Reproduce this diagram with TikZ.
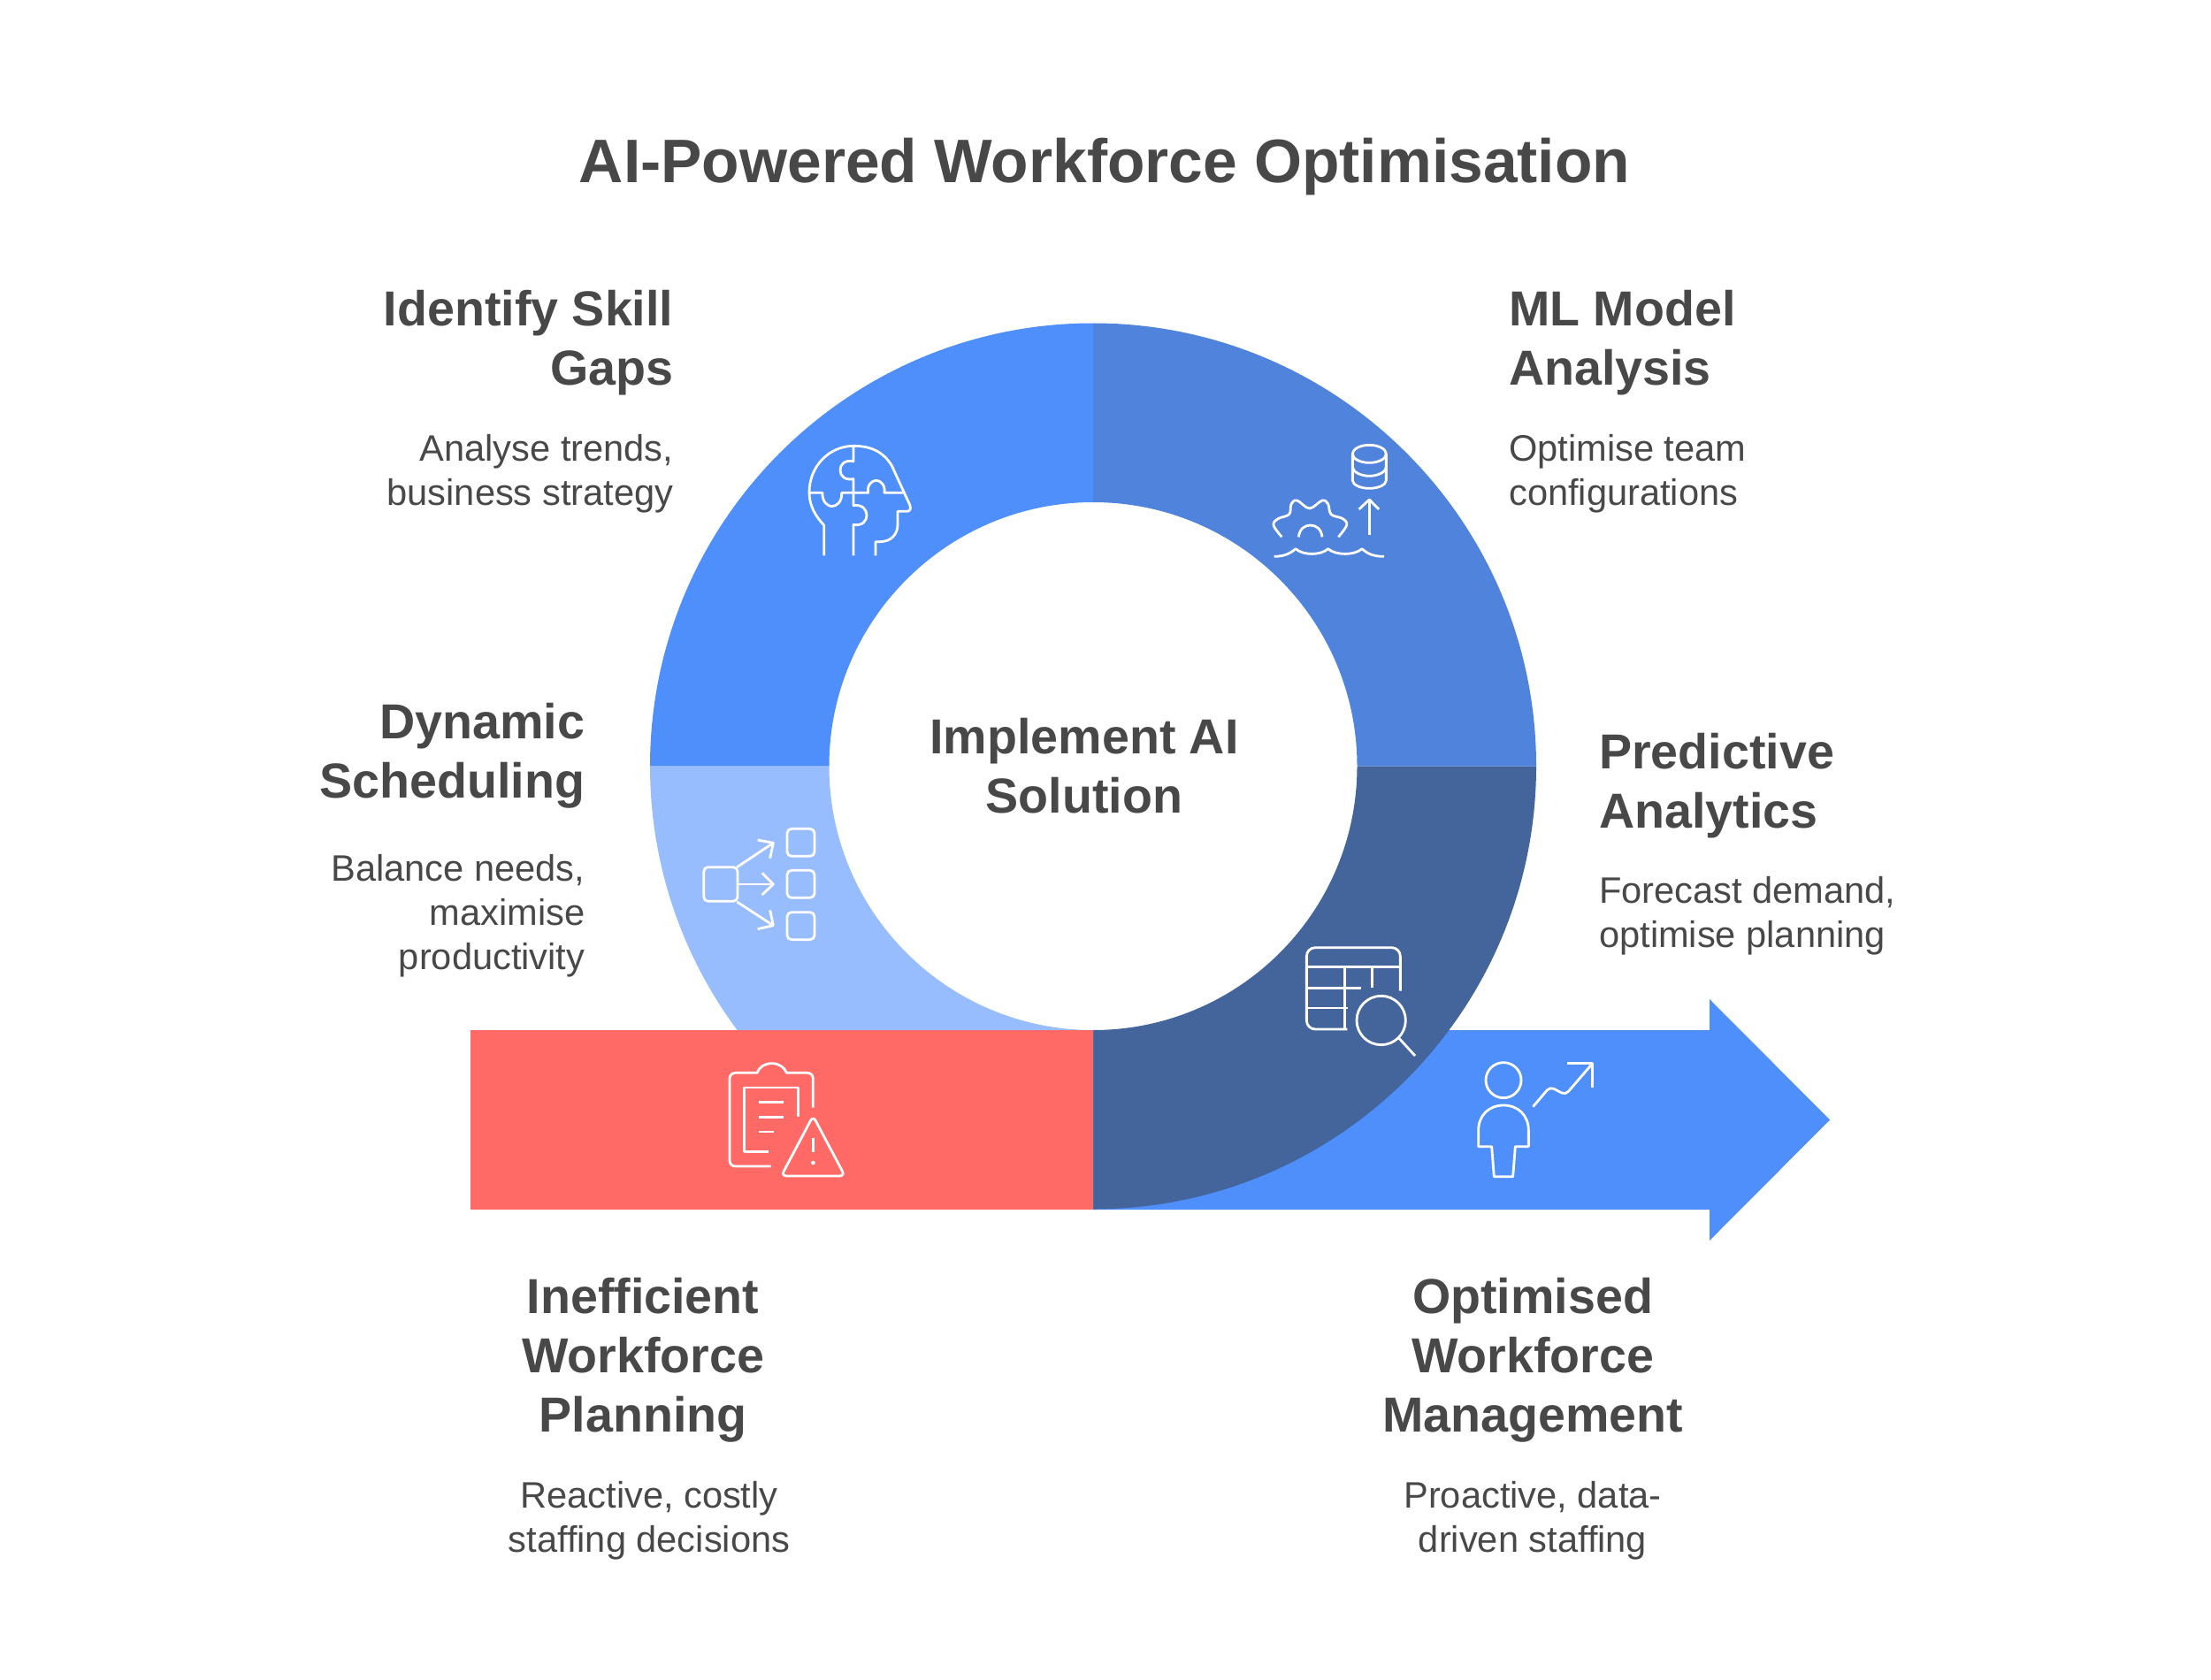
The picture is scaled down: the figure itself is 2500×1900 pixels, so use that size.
\documentclass[tikz,border=0pt]{standalone}
\usepackage{fontspec}
\setmainfont{Liberation Sans}
\definecolor{blueA}{HTML}{4E8FFC}
\definecolor{blueB}{HTML}{5083DB}
\definecolor{blueC}{HTML}{44659B}
\definecolor{blueD}{HTML}{97BDFF}
\definecolor{redA}{HTML}{FF6966}
\definecolor{ink}{HTML}{484848}
\tikzset{
 ttl/.style={inner sep=0pt,text=ink,font=\fontsize{69.5}{84}\selectfont\bfseries},
 hd/.style={inner sep=0pt,text=ink,font=\fontsize{55.6}{67}\selectfont\bfseries},
 bd/.style={inner sep=0pt,text=ink,font=\fontsize{41.6}{50}\selectfont},
 ico/.style={draw=white,line width=2.8pt,line cap=butt,line join=round},
}
\begin{document}
\begin{tikzpicture}[x=1pt,y=-1pt]
\useasboundingbox (0,0) rectangle (2500,1900);
\fill[white] (0,0) rectangle (2500,1900);
% arrow
\fill[blueA] (1236,1165) -- (1933,1165) -- (1933,1130) -- (2069,1266.5) -- (1933,1403) -- (1933,1368) -- (1236,1368) -- cycle;
% ring
\def\cx{1236}\def\cy{866.5}\def\Ro{501}\def\Ri{298.5}
\fill[blueA] (\cx-\Ro,\cy) arc[start angle=180,end angle=270,radius=\Ro] -- (\cx,\cy-\Ri) arc[start angle=270,end angle=180,radius=\Ri] -- cycle;
\fill[blueB] (\cx,\cy-\Ro) arc[start angle=270,end angle=360,radius=\Ro] -- (\cx+\Ri,\cy) arc[start angle=360,end angle=270,radius=\Ri] -- cycle;
\fill[blueC] (\cx+\Ro,\cy) arc[start angle=0,end angle=90,radius=\Ro] -- (\cx,\cy+\Ri) arc[start angle=90,end angle=0,radius=\Ri] -- cycle;
\fill[blueD] (\cx,\cy+\Ro) arc[start angle=90,end angle=180,radius=\Ro] -- (\cx-\Ri,\cy) arc[start angle=180,end angle=90,radius=\Ri] -- cycle;
\fill[redA] (532,1165) rectangle (1236,1368);
% head icon
\begin{scope}[shift={(880,470)},scale=1/3]
\draw[ico] (155,475) -- (155,372) .. controls (125,340) and (105,305) .. (105,260) .. controls (105,170) and (175,103) .. (255,103) .. controls (310,103) and (355,120) .. (385,170) -- (447,305) .. controls (450,318) and (447,325) .. (435,325) -- (405,325) -- (405,370) .. controls (405,405) and (380,428) .. (345,428) -- (330,428) -- (330,475);
\draw[ico] (255,103) -- (255,155) .. controls (225,150) and (210,165) .. (210,185) .. controls (210,205) and (225,220) .. (255,215) -- (255,305) .. controls (285,300) and (300,320) .. (300,338) .. controls (300,358) and (285,375) .. (255,370) -- (255,475);
\draw[ico] (105,262) -- (150,262) .. controls (148,295) and (170,308) .. (182,308) .. controls (195,308) and (217,295) .. (215,262) -- (305,262) .. controls (300,235) and (318,220) .. (332,220) .. controls (346,220) and (364,235) .. (360,262) -- (430,262);
\end{scope}
% gear and database icon
\begin{scope}[shift={(1410,480)},scale=1/3]
\draw[ico] (415,100) ellipse [x radius=57,y radius=30];
\draw[ico] (358,100) -- (358,190) .. controls (358,205) and (385,217) .. (415,217) .. controls (445,217) and (472,205) .. (472,190) -- (472,100);
\draw[ico] (358,145) .. controls (358,160) and (385,175) .. (415,175) .. controls (445,175) and (472,160) .. (472,145);
\draw[ico] (415,375) -- (415,255);
\draw[ico] (380,288) -- (415,255) -- (447,288);
\draw[ico] plot[smooth,tension=0.6] coordinates {(118,382) (90,342) (105,320) (143,305) (150,270) (170,258) (212,285) (255,258) (275,270) (285,305) (325,320) (338,342) (310,382)};
\draw[ico] (175,382) .. controls (178,355) and (195,342) .. (215,342) .. controls (235,342) and (252,355) .. (255,382);
\draw[ico] (92,448) .. controls (130,448) and (150,435) .. (165,422) .. controls (190,445) and (250,445) .. (275,422) .. controls (300,445) and (365,445) .. (390,422) .. controls (410,440) and (430,448) .. (465,448);
\end{scope}
% scheduling icon
\begin{scope}[shift={(770,910)},scale=1/3]
\draw[ico,rounded corners=5pt] (77,212) rectangle (192,328);
\draw[ico,rounded corners=5pt] (360,82) rectangle (453,175);
\draw[ico,rounded corners=5pt] (360,223) rectangle (453,316);
\draw[ico,rounded corners=5pt] (360,365) rectangle (453,458);
\draw[ico] (190,212) -- (313,130);
\draw[ico] (260,120) -- (313,130) -- (302,182);
\draw[ico] (195,270) -- (313,270);
\draw[ico] (275,232) -- (313,270) -- (275,306);
\draw[ico] (190,330) -- (313,410);
\draw[ico] (302,358) -- (313,410) -- (260,422);
\end{scope}
% clipboard icon
\begin{scope}[shift={(800,1180)},scale=1/3]
\draw[ico] (215,417) -- (95,417) .. controls (83,417) and (75,409) .. (75,397) -- (75,120) .. controls (75,108) and (83,100) .. (95,100) -- (168,100) .. controls (175,80) and (195,68) .. (218,68) .. controls (241,68) and (261,80) .. (268,100) -- (338,100) .. controls (350,100) and (358,108) .. (358,120) -- (358,218);
\draw[ico] (208,367) -- (125,367) -- (125,150) -- (308,150) -- (308,250);
\draw[ico] (175,200) -- (258,200);
\draw[ico] (175,250) -- (258,250);
\draw[ico] (175,300) -- (225,300);
\draw[ico,rounded corners=6pt] (358,246) -- (466,450) -- (250,450) -- cycle;
\draw[ico] (358,320) -- (358,370);
\fill[white] (358,405) circle[radius=7];
\end{scope}
% table icon
\begin{scope}[shift={(1450,1050)},scale=1/3]
\draw[ico] (400,212) -- (400,95) .. controls (400,78) and (387,65) .. (370,65) -- (112,65) .. controls (95,65) and (82,78) .. (82,95) -- (82,312) .. controls (82,329) and (95,342) .. (112,342) -- (220,342);
\draw[ico] (82,130) -- (400,130);
\draw[ico] (212,130) -- (212,342);
\draw[ico] (305,130) -- (305,200);
\draw[ico] (82,202) -- (268,202);
\draw[ico] (82,270) -- (222,270);
\draw[ico] (335,312) circle[radius=83];
\draw[ico] (395,372) -- (450,432);
\end{scope}
% person icon
\begin{scope}[shift={(1640,1180)},scale=1/3]
\draw[ico] (180,125) circle[radius=60];
\draw[ico] (95,350) -- (95,295) .. controls (95,245) and (130,210) .. (180,210) .. controls (230,210) and (265,245) .. (265,295) -- (265,350) -- (220,350) -- (212,452) -- (148,452) -- (140,350) -- cycle;
\draw[ico,rounded corners=5pt] (280,215) -- (338,147) -- (390,175) -- (482,68);
\draw[ico] (397,68) -- (482,68) -- (482,150);
\end{scope}
% texts
\node[ttl,anchor=base] (title) at (1249,206) {AI-Powered Workforce Optimisation};
\node[hd,anchor=north east,align=right] (skillh) at (761.5,321.5) {\strut Identify Skill\\Gaps};
\node[bd,anchor=north east,align=right] (skillb) at (761.5,486) {\strut Analyse trends,\\business strategy};
\node[hd,anchor=north west,align=left] (mlh) at (1706,321.5) {\strut ML Model\\Analysis};
\node[bd,anchor=north west,align=left] (mlb) at (1706,486) {\strut Optimise team\\configurations};
\node[hd,anchor=north east,align=right] (dynh) at (661.5,788.5) {\strut Dynamic\\Scheduling};
\node[bd,anchor=north east,align=right] (dynb) at (661.5,961) {\strut Balance needs,\\maximise\\productivity};
\node[hd,anchor=north west,align=left] (predh) at (1808,822) {\strut Predictive\\Analytics};
\node[bd,anchor=north west,align=left] (predb) at (1808,986) {\strut Forecast demand,\\optimise planning};
\node[hd,anchor=north,align=center] (ineffh) at (727,1438) {\strut Inefficient\\Workforce\\Planning};
\node[bd,anchor=north,align=center] (ineffb) at (734,1670) {\strut Reactive, costly\\staffing decisions};
\node[hd,anchor=north,align=center] (opth) at (1733,1438) {\strut Optimised\\Workforce\\Management};
\node[bd,anchor=north,align=center] (optb) at (1733,1670) {\strut Proactive, data-\\driven staffing};
\node[hd,anchor=north,align=center] (center) at (1226,805) {\strut Implement AI\\Solution};
\end{tikzpicture}
\end{document}
